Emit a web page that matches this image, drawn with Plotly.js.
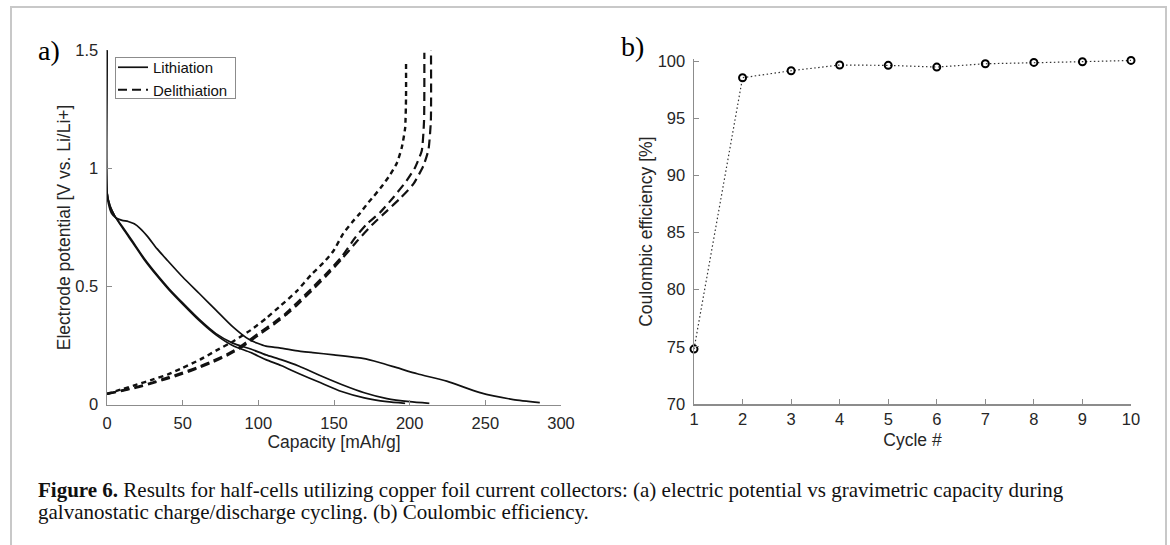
<!DOCTYPE html>
<html>
<head>
<meta charset="utf-8">
<script src="https://cdn.plot.ly/plotly-3.0.1.min.js"></script>
<style>html,body{margin:0;padding:0;background:#fff;}#chart{width:1170px;height:545px;}</style>
</head>
<body>
<div id="chart"></div>
<script>
// Panel a: lithiation (solid) curves
const lith1Cap = [0, 0, 1, 3, 6, 10, 14, 18, 22, 27, 33, 40, 50, 61, 72, 83, 94, 105, 114, 127, 136, 150, 169, 180, 191.5, 205, 224.5, 246.5, 268.5, 286];
const lith1V   = [1.5, 0.9, 0.85, 0.81, 0.79, 0.78, 0.775, 0.765, 0.745, 0.71, 0.66, 0.61, 0.54, 0.47, 0.40, 0.33, 0.275, 0.247, 0.24, 0.226, 0.22, 0.21, 0.195, 0.178, 0.156, 0.13, 0.099, 0.05, 0.021, 0.008];
const lith2Cap = [0, 0, 2, 5, 10, 17, 25, 33, 41, 50, 61, 72, 83, 95, 105, 115, 127, 140, 155, 170, 185, 200, 213];
const lith2V   = [1.5, 0.9, 0.84, 0.80, 0.755, 0.69, 0.615, 0.55, 0.49, 0.43, 0.36, 0.30, 0.26, 0.235, 0.21, 0.19, 0.162, 0.125, 0.085, 0.05, 0.025, 0.012, 0.005];
const lith3Cap = [0, 0, 2, 5, 10, 17, 25, 33, 41, 50, 61, 72, 83, 95, 105, 115, 127, 140, 155, 170, 185, 197];
const lith3V   = [1.5, 0.9, 0.84, 0.80, 0.75, 0.685, 0.61, 0.545, 0.485, 0.425, 0.355, 0.295, 0.25, 0.22, 0.19, 0.165, 0.13, 0.095, 0.055, 0.028, 0.012, 0.005];
// Panel a: delithiation (dashed) curves
const delith1Cap = [0, 10, 20, 30, 40, 50, 61.5, 72, 83.5, 95, 105.5, 115, 125.4, 135, 143, 149.6, 156.2, 162, 167.2, 172, 176, 181.5, 187, 191.5, 194.7, 197, 197.6, 197.6];
const delith1V   = [0.045, 0.065, 0.085, 0.105, 0.127, 0.155, 0.19, 0.228, 0.268, 0.315, 0.367, 0.42, 0.48, 0.55, 0.60, 0.65, 0.725, 0.772, 0.81, 0.85, 0.88, 0.923, 0.972, 1.022, 1.086, 1.17, 1.3, 1.46];
const delith2Cap = [0, 10, 20, 30, 39.4, 50, 61.5, 70, 79, 87, 94.5, 102, 110, 118, 125.4, 135, 145, 155, 164, 171.6, 180.4, 189.2, 198, 203.6, 208, 209.5, 209.7];
const delith2V   = [0.045, 0.06, 0.075, 0.093, 0.113, 0.135, 0.162, 0.185, 0.212, 0.24, 0.275, 0.31, 0.346, 0.385, 0.43, 0.49, 0.555, 0.625, 0.707, 0.764, 0.813, 0.877, 0.948, 1.004, 1.075, 1.2, 1.49];
const delith3Cap = [0, 10, 20, 30, 39.4, 50, 61.5, 70, 79, 87, 94.5, 102, 110, 118, 125.4, 135, 145, 155, 165, 175, 185, 194, 202.5, 209, 212.4, 214, 214.1];
const delith3V   = [0.045, 0.058, 0.072, 0.09, 0.108, 0.13, 0.157, 0.18, 0.206, 0.235, 0.268, 0.302, 0.338, 0.378, 0.42, 0.48, 0.545, 0.615, 0.69, 0.76, 0.82, 0.875, 0.934, 1.01, 1.078, 1.2, 1.5];
// Panel b: coulombic efficiency
const cycles = [1, 2, 3, 4, 5, 6, 7, 8, 9, 10];
const efficiency = [74.8, 98.54, 99.15, 99.65, 99.62, 99.47, 99.76, 99.88, 99.94, 100.05];
// Tick labels
const capTicks = [0, 50, 100, 150, 200, 250, 300];
const vTicks = [0, 0.5, 1, 1.5];
const vTickText = ['0', '0.5', '1', '1.5'];
const cycleTicks = [1, 2, 3, 4, 5, 6, 7, 8, 9, 10];
const effTicks = [70, 75, 80, 85, 90, 95, 100];

const W = 1170, H = 545;
const px = v => v / W, py = v => 1 - v / H;
const sans = 'Liberation Sans, Arial, sans-serif';
const serif = 'Liberation Serif, Times New Roman, serif';
const axCol = '#8c8c8c', txtCol = '#262626';

const solid = {color: '#111', width: 1.7, shape: 'spline', smoothing: 0.6};
const dashShort = {color: '#111', width: 2.4, dash: '5px,4px', shape: 'spline', smoothing: 0.5};
const dashLong = {color: '#111', width: 2.2, dash: '9px,5px', shape: 'spline', smoothing: 0.5};

const traces = [
  {x: lith1Cap, y: lith1V, mode: 'lines', line: solid, name: 'Lithiation', legendgroup: 'L', showlegend: true},
  {x: delith2Cap, y: delith2V, mode: 'lines', line: dashLong, name: 'Delithiation', legendgroup: 'D', showlegend: true},
  {x: lith2Cap, y: lith2V, mode: 'lines', line: solid, legendgroup: 'L', showlegend: false},
  {x: lith3Cap, y: lith3V, mode: 'lines', line: solid, legendgroup: 'L', showlegend: false},
  {x: delith1Cap, y: delith1V, mode: 'lines', line: dashShort, legendgroup: 'D', showlegend: false},
  {x: delith3Cap, y: delith3V, mode: 'lines', line: dashLong, legendgroup: 'D', showlegend: false},
  {x: cycles, y: efficiency, xaxis: 'x2', yaxis: 'y2', mode: 'lines+markers', showlegend: false, cliponaxis: false,
   line: {color: '#333', width: 1.2, dash: '1.5px,2.5px'},
   marker: {symbol: 'circle-open', size: 7, color: '#000', line: {width: 2, color: '#000'}}}
];

const axBase = {showline: true, linecolor: axCol, linewidth: 1.5, ticks: 'inside', ticklen: 5, tickcolor: axCol, tickwidth: 1,
  showgrid: false, zeroline: false, tickfont: {family: sans, size: 16.5, color: txtCol}};
const titleFont = {family: sans, size: 17.5, color: txtCol};

// legend frame (pixels)
const lgL = 115, lgR = 236, lgT = 57, lgB = 99;

const layout = {
  width: W, height: H, margin: {l: 0, r: 0, t: 0, b: 0},
  paper_bgcolor: '#fff', plot_bgcolor: 'rgba(0,0,0,0)',
  showlegend: true,
  legend: {x: px(113), y: py(51), xanchor: 'left', yanchor: 'top', bgcolor: 'rgba(255,255,255,0)', borderwidth: 0,
    font: {family: sans, size: 15, color: '#111'}, tracegroupgap: 0},
  xaxis: Object.assign({}, axBase, {domain: [px(107), px(561)], range: [0, 300], tickvals: capTicks, anchor: 'y', ticklabelstandoff: 3,
    title: {text: 'Capacity [mAh/g]', font: titleFont, standoff: 4}}),
  yaxis: Object.assign({}, axBase, {domain: [py(404.5), py(50.3)], range: [0, 1.5], tickvals: vTicks, ticktext: vTickText, anchor: 'x', ticklabelstandoff: 4,
    title: {text: 'Electrode potential [V vs. Li/Li+]', font: titleFont, standoff: 0}}),
  xaxis2: Object.assign({}, axBase, {domain: [px(694), px(1131)], range: [1, 10], tickvals: cycleTicks, anchor: 'y2', ticklabelstandoff: 0,
    title: {text: 'Cycle #', font: titleFont, standoff: 6}}),
  yaxis2: Object.assign({}, axBase, {domain: [py(404), py(59.3)], range: [70, 100.15], tickvals: effTicks, anchor: 'x2', ticklabelstandoff: 4,
    title: {text: 'Coulombic efficiency [%]', font: titleFont, standoff: 0}}),
  shapes: [
    {type: 'rect', xref: 'paper', yref: 'paper', x0: px(11), x1: px(1166), y0: -0.05, y1: py(7), line: {color: '#c8c8c8', width: 2}, fillcolor: 'rgba(0,0,0,0)', layer: 'below'}
  ],
  annotations: [
    {text: ' ', xref: 'paper', yref: 'paper', x: px(lgL), y: py(lgT), xanchor: 'left', yanchor: 'top', showarrow: false,
     width: lgR - lgL - 2, height: lgB - lgT - 2, borderpad: 0, bordercolor: '#8c8c8c', borderwidth: 1, bgcolor: 'rgba(0,0,0,0)', font: {size: 10}},
    {text: 'a)', xref: 'paper', yref: 'paper', x: px(36), y: py(50), xanchor: 'left', yanchor: 'middle', showarrow: false, font: {family: serif, size: 28, color: '#000'}},
    {text: 'b)', xref: 'paper', yref: 'paper', x: px(619), y: py(46), xanchor: 'left', yanchor: 'middle', showarrow: false, font: {family: serif, size: 28, color: '#000'}},
    {text: '<b>Figure 6.</b> Results for half-cells utilizing copper foil current collectors: (a) electric potential vs gravimetric capacity during',
     xref: 'paper', yref: 'paper', x: px(36), y: py(490), xanchor: 'left', yanchor: 'middle', align: 'left', showarrow: false,
     font: {family: serif, size: 21, color: '#111'}},
    {text: 'galvanostatic charge/discharge cycling. (b) Coulombic efficiency.',
     xref: 'paper', yref: 'paper', x: px(36), y: py(512), xanchor: 'left', yanchor: 'middle', align: 'left', showarrow: false,
     font: {family: serif, size: 21, color: '#111'}}
  ]
};

Plotly.newPlot('chart', traces, layout, {displayModeBar: false, staticPlot: true});
</script>
</body>
</html>
